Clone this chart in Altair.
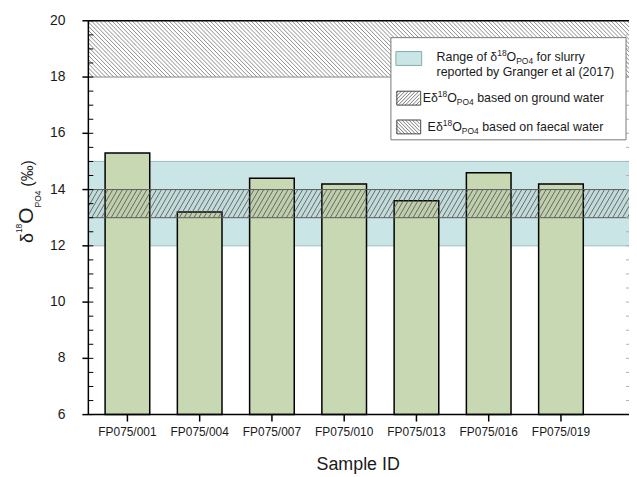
import altair as alt
import pandas as pd

# ---------------- data ----------------
categories = ["FP075/001", "FP075/004", "FP075/007", "FP075/010",
              "FP075/013", "FP075/016", "FP075/019"]
values = [15.3, 13.2, 14.4, 14.2, 13.6, 14.6, 14.2]
y_ticks = [6, 8, 10, 12, 14, 16, 18, 20]
slurry_range = [12, 15]
ground_range = [13, 14]
faecal_range = [18, 20]

# ---------------- layout / style ----------------
FONT = "Liberation Sans"
W, H = 545, 397
XMIN, XMAX = -0.472, 6.873
YMIN, YMAX = 6, 20
PX_X = W / (XMAX - XMIN)
PX_Y = H / (YMAX - YMIN)
BAR = "#c7d8b2"
CYAN = "#c9e5e5"

df = pd.DataFrame({"idx": list(range(len(categories))),
                   "sample": categories, "value": values})
ticks_df = pd.DataFrame({"t": y_ticks, "label": [str(v) for v in y_ticks]})

xscale = alt.Scale(domain=[XMIN, XMAX], nice=False, zero=False)
yscale = alt.Scale(domain=[YMIN, YMAX], nice=False, zero=False)

one = alt.Data(values=[{}])


def range_data(rng):
    return alt.Data(values=[{"lo": rng[0], "hi": rng[1]}])


def band_rect(rng, fill, opacity=1.0):
    return alt.Chart(range_data(rng)).mark_rect(fill=fill, opacity=opacity).encode(
        x=alt.value(0), x2=alt.value(W),
        y=alt.Y("lo:Q", scale=yscale, axis=None), y2="hi:Q")


def band_edge(rng, key, color, width=1.0):
    return alt.Chart(range_data(rng)).mark_rule(color=color, strokeWidth=width).encode(
        x=alt.value(0), x2=alt.value(W),
        y=alt.Y(key + ":Q", scale=yscale, axis=None))


def hatch(rng, spacing_px, angle_dx_px, color, direction):
    dx = angle_dx_px / PX_X
    step = spacing_px / PX_X
    lo, hi = rng
    if direction == "/":
        calc = dict(xa="datum.s", xb="datum.s + %f" % dx)
    else:
        calc = dict(xa="datum.s + %f" % dx, xb="datum.s")
    calc.update(ya="%f" % lo, yb="%f" % hi)
    return alt.Chart(alt.sequence(XMIN - dx - step, XMAX + step, step, as_="s")).transform_calculate(
        **calc).mark_rule(color=color, strokeWidth=0.8, clip=True).encode(
        x=alt.X("xa:Q", scale=xscale, axis=None), x2="xb:Q",
        y=alt.Y("ya:Q", scale=yscale, axis=None), y2="yb:Q")


faecal_h_px = (faecal_range[1] - faecal_range[0]) * PX_Y
ground_h_px = (ground_range[1] - ground_range[0]) * PX_Y

bars = alt.Chart(df).mark_bar(size=45, fill=BAR, stroke="black", strokeWidth=1.5).encode(
    x=alt.X("idx:Q", scale=xscale, axis=None),
    y=alt.Y("value:Q", scale=yscale, axis=None),
    y2=alt.datum(YMIN),
)

layers = [
    hatch(faecal_range, 4.2, faecal_h_px, "#707070", "\\"),
    band_edge(faecal_range, "lo", "#8a8a8a", 1.0),
    band_rect(slurry_range, CYAN),
    band_edge(slurry_range, "lo", "#9dbdbd", 1.0),
    band_edge(slurry_range, "hi", "#9dbdbd", 1.0),
    bars,
    band_rect(ground_range, "#606060", 0.08),
    hatch(ground_range, 5.0, ground_h_px / 1.7, "#505050", "/"),
    band_edge(ground_range, "lo", "#5a5a5a", 1.0),
    band_edge(ground_range, "hi", "#5a5a5a", 1.0),
]

# ---------------- axes (drawn through the scales) ----------------
layers.append(alt.Chart(one).mark_rule(color="black", strokeWidth=1.5).encode(
    x=alt.value(0), x2=alt.value(W), y=alt.value(0)))          # top frame
layers.append(alt.Chart(one).mark_rule(color="black", strokeWidth=1.5).encode(
    x=alt.value(0), x2=alt.value(W), y=alt.value(H)))          # x domain
layers.append(alt.Chart(one).mark_rule(color="black", strokeWidth=1.5).encode(
    x=alt.value(0), y=alt.value(0), y2=alt.value(H)))          # y domain
# y major ticks + labels
layers.append(alt.Chart(ticks_df).mark_rule(color="black", strokeWidth=1.5).encode(
    y=alt.Y("t:Q", scale=yscale, axis=None), x=alt.value(-6), x2=alt.value(0)))
layers.append(alt.Chart(ticks_df).mark_text(
    font=FONT, fontSize=14, color="#1a1a1a", align="right", baseline="middle").encode(
    y=alt.Y("t:Q", scale=yscale, axis=None), x=alt.value(-23), text="label:N"))
# y minor ticks (inside) and faint right-side ticks
layers.append(alt.Chart(alt.sequence(YMIN, YMAX + 0.01, 0.5, as_="t")).mark_rule(
    color="black", strokeWidth=1).encode(
    y=alt.Y("t:Q", scale=yscale, axis=None), x=alt.value(0), x2=alt.value(5)))
layers.append(alt.Chart(alt.sequence(YMIN + 0.5, YMAX, 0.5, as_="t")).mark_rule(
    color="#b0b0b0", strokeWidth=1).encode(
    y=alt.Y("t:Q", scale=yscale, axis=None), x=alt.value(W - 3), x2=alt.value(W)))
# x ticks + labels + title
layers.append(alt.Chart(df).mark_rule(color="black", strokeWidth=1.5).encode(
    x=alt.X("idx:Q", scale=xscale, axis=None), y=alt.value(H), y2=alt.value(H + 7)))
layers.append(alt.Chart(df).mark_text(
    font=FONT, fontSize=12, color="#1a1a1a", align="center", baseline="alphabetic").encode(
    x=alt.X("idx:Q", scale=xscale, axis=None), y=alt.value(H + 22), text="sample:N"))
layers.append(alt.Chart(one).mark_text(
    font=FONT, fontSize=18, color="#1a1a1a", align="center", baseline="alphabetic").encode(
    x=alt.value(272), y=alt.value(H + 56), text=alt.value("Sample ID")))

# ---------------- custom legend ----------------
ARIAL = {" ": 278, "(": 333, ")": 333, "/": 278, "0": 556, "1": 556, "2": 556,
         "4": 556, "7": 556, "8": 556, "E": 667, "O": 778, "P": 667, "R": 722,
         "G": 778, "a": 556, "b": 556, "c": 500, "d": 556, "e": 556, "f": 278,
         "g": 556, "h": 556, "i": 222, "l": 222, "n": 556, "o": 556, "p": 556,
         "r": 333, "s": 500, "t": 278, "u": 556, "w": 722, "y": 500,
         "δ": 556, "‰": 1000}


def tw(s, size):
    return sum(ARIAL.get(c, 556) for c in s) * size / 1000.0


def txt(s, x, y, size, angle=0, color="#1a1a1a"):
    kw = dict(font=FONT, fontSize=size, color=color, align="left",
              baseline="alphabetic")
    if angle:
        kw["angle"] = angle
    return alt.Chart(one).mark_text(**kw).encode(
        x=alt.value(x), y=alt.value(y), text=alt.value(s))


def rich(parts, x, y, fs, sfs):
    out = []
    for s, kind in parts:
        size = fs if kind == "n" else sfs
        dy = {"n": 0, "sup": -5, "sub": 3}[kind]
        lead = len(s) - len(s.lstrip(" "))
        x += tw(" " * lead, size)
        s = s.lstrip(" ")
        out.append(txt(s, x, y + dy, size))
        x += tw(s, size)
    return out


LX0, LY0, LX1, LY1 = 305, 17, 542, 120
layers.append(alt.Chart(one).mark_rect(fill="white", stroke="#777", strokeWidth=1).encode(
    x=alt.value(LX0), x2=alt.value(LX1), y=alt.value(LY0), y2=alt.value(LY1)))
layers.append(alt.Chart(one).mark_rect(fill=CYAN, stroke="#8aa", strokeWidth=1).encode(
    x=alt.value(310), x2=alt.value(336), y=alt.value(31), y2=alt.value(45)))


def px_to_x(expr):
    return f"{XMIN} + ({expr}) / {PX_X}"


def px_to_y(expr):
    return f"{YMAX} - ({expr}) / {PX_Y}"


def swatch_hatch(x0, y0, w, h, direction, spacing=3.6):
    if direction == "/":
        seq = alt.sequence(spacing / 2, w + h, spacing, as_="c")
        px = dict(
            xa=f"{x0} + max(0, datum.c - {h})", ya=f"{y0} + min(datum.c, {h})",
            xb=f"{x0} + min(datum.c, {w})", yb=f"{y0} + max(0, datum.c - {w})")
    else:
        seq = alt.sequence(-h + spacing / 2, w, spacing, as_="c")
        px = dict(
            xa=f"{x0} + max(0, datum.c)", ya=f"{y0} + max(0, -datum.c)",
            xb=f"{x0} + min({w}, datum.c + {h})", yb=f"{y0} + min({h}, {w} - datum.c)")
    calc = {k: (px_to_x(v) if k.startswith("x") else px_to_y(v)) for k, v in px.items()}
    lines = alt.Chart(seq).transform_calculate(**calc).mark_rule(
        color="#555", strokeWidth=0.8).encode(
        x=alt.X("xa:Q", scale=xscale, axis=None), y=alt.Y("ya:Q", scale=yscale, axis=None),
        x2="xb:Q", y2="yb:Q")
    box = alt.Chart(one).mark_rect(fill="white", fillOpacity=0, stroke="#444",
                                   strokeWidth=1).encode(
        x=alt.value(x0), x2=alt.value(x0 + w), y=alt.value(y0), y2=alt.value(y0 + h))
    return [lines, box]


layers += swatch_hatch(311, 71, 24, 14, "/")
layers += swatch_hatch(311, 100, 24, 14, "\\")

FS, SFS = 12.5, 8.5
layers += rich([("Range of δ", "n"), ("18", "sup"), ("O", "n"), ("PO4", "sub"),
                (" for slurry", "n")], 351, 41, FS, SFS)
layers += rich([("reported by Granger et al (2017)", "n")], 351, 56, FS, SFS)
layers += rich([("Eδ", "n"), ("18", "sup"), ("O", "n"), ("PO4", "sub"),
                (" based on ground water", "n")], 337, 82, FS, SFS)
layers += rich([("Eδ", "n"), ("18", "sup"), ("O", "n"), ("PO4", "sub"),
                (" based on faecal water", "n")], 342, 111, FS, SFS)

# ---------------- y-axis title (rotated, with super/subscripts) ----------------
ty = 224
layers.append(txt("δ", -56, ty, 18, 270))
ty -= tw("δ", 18)
layers.append(txt("18", -67, ty, 8.5, 270))
ty -= tw("18", 8.5)
layers.append(txt("O", -56, ty, 21, 270))
ty -= tw("O", 21)
layers.append(txt("PO4", -48, ty, 8.5, 270))
ty -= tw("PO4", 8.5) + 4
layers.append(txt("(‰)", -56, ty, 16, 270))

chart = alt.layer(*layers).properties(
    width=W, height=H, background="white",
    padding={"left": 81, "top": 11, "right": 0, "bottom": 61},
    autosize=alt.AutoSizeParams(type="none"),
).configure_view(strokeWidth=0)

chart.save("out.html", embed_options={"renderer": "svg", "actions": False})
